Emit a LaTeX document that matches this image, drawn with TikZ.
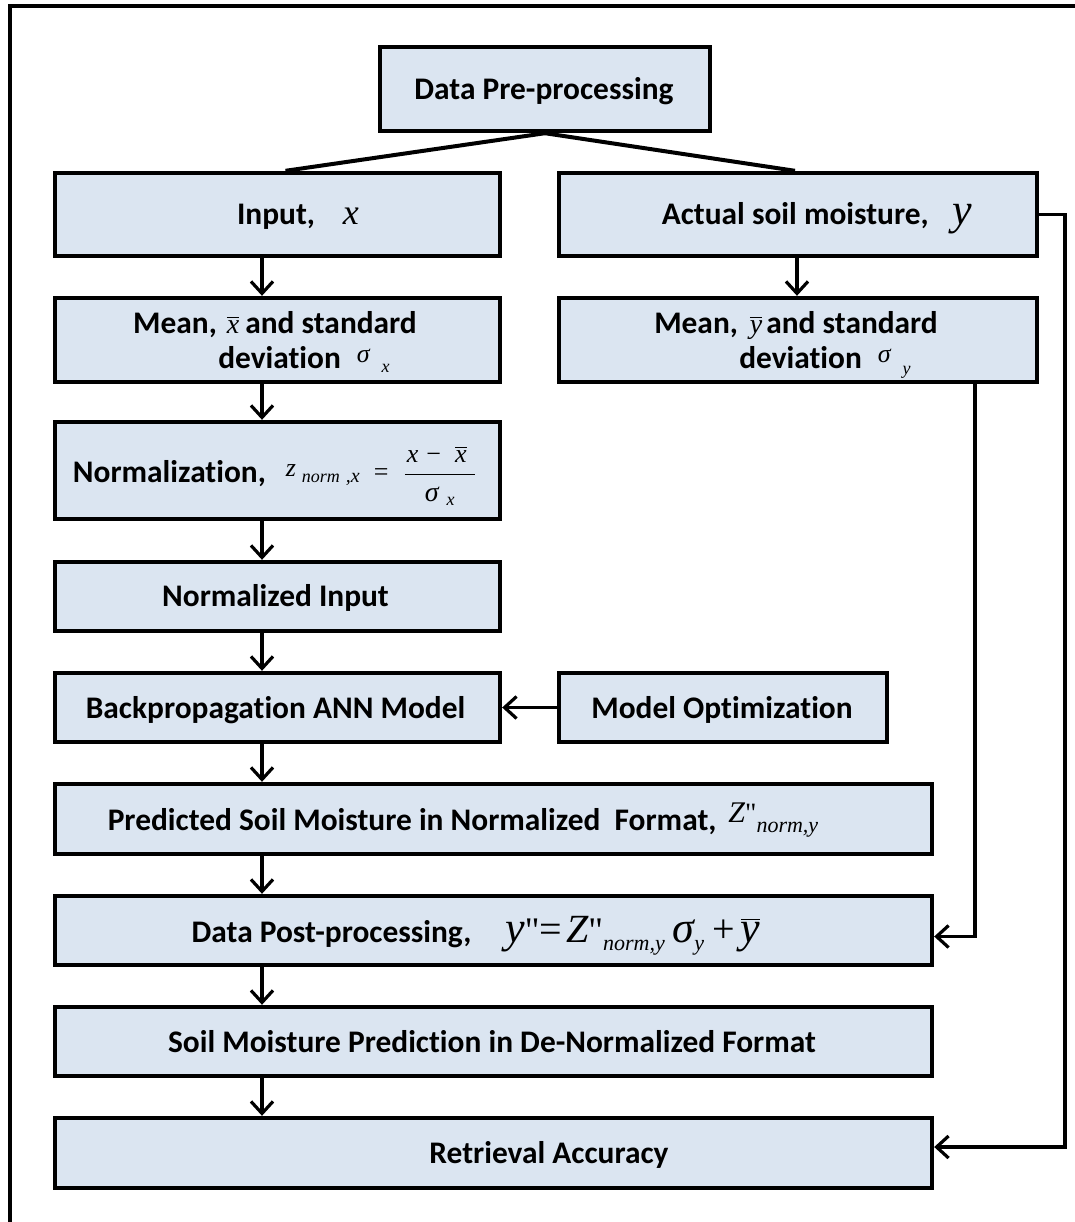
\documentclass[tikz,border=0pt]{standalone}
\usepackage{fontspec}
\setmainfont{Carlito}[Ligatures=NoCommon]
\newfontfamily\tms{Liberation Serif}
\usetikzlibrary{arrows.meta,fit,calc}
\definecolor{boxfill}{RGB}{219,229,241}

% italic / upright serif symbols at a given size (pt)
\newcommand\mi[2]{{\tms\mdseries\itshape\fontsize{#1}{#1}\selectfont #2}}
\newcommand\mr[2]{{\tms\mdseries\upshape\fontsize{#1}{#1}\selectfont #2}}
\newcommand\barred[1]{$\overline{\hbox{#1}}$}

\begin{document}
\begin{tikzpicture}[x=0.5pt,y=-0.5pt,
  box/.style={draw=black, line width=2.2pt, fill=boxfill, inner sep=0pt},
  lbl/.style={inner sep=0pt, anchor=base, font=\fontsize{15.7}{17.5}\selectfont\bfseries},
  link/.style={line width=2pt},
  arr/.style={line width=1.6pt, -{Straight Barb[length=6pt,width=11pt]}},
  outerframe/.style={line width=2pt}]

\useasboundingbox (0,0) rectangle (1075,1222);

% outer frame
\draw[outerframe] (9.5,1230) -- (9.5,6) -- (1080,6);

% boxes
\node[box, fit={(380,47) (710,131)}] (dp) {};
\node[box, fit={(55,173) (500,256)}] (in) {};
\node[box, fit={(559,173) (1037,256)}] (ac) {};
\node[box, fit={(55,298) (500,382)}] (mx) {};
\node[box, fit={(559,298) (1037,382)}] (my) {};
\node[box, fit={(55,422) (500,519)}] (nrm) {};
\node[box, fit={(55,562) (500,631)}] (ni) {};
\node[box, fit={(55,673) (500,742)}] (bp) {};
\node[box, fit={(559,673) (887,742)}] (mo) {};
\node[box, fit={(55,784) (932,854)}] (pred) {};
\node[box, fit={(55,896) (932,965)}] (post) {};
\node[box, fit={(55,1007) (932,1076)}] (smp) {};
\node[box, fit={(55,1118) (932,1188)}] (ret) {};

% texts
\node[lbl] (dp-t) at (544,99) {Data Pre-processing};
\node[lbl] (in-t) at (298,224) {Input,\hspace{14pt}\mi{18}{x}};
\node[lbl] (ac-t) at (817,224) {Actual soil moisture,\hspace{12pt}\mi{22}{y}};

\node[lbl] (mx-t1) at (275,333) {Mean,\hspace{5pt}\barred{\mi{14}{x}}\hspace{3pt}and standard};
\node[lbl] (mx-t2) at (304,368) {deviation\hspace{8pt}\raisebox{3pt}{\mi{13}{σ}}\hspace{6pt}\raisebox{-2pt}{\mi{9}{x}}};
\node[lbl] (my-t1) at (796,333) {Mean,\hspace{6pt}\barred{\mi{14}{y}}\hspace{2pt}and standard};
\node[lbl] (my-t2) at (825,368) {deviation\hspace{8pt}\raisebox{3pt}{\mi{13}{σ}}\hspace{6pt}\raisebox{-3pt}{\mi{9}{y}}};

\node[lbl] (nrm-t) at (275,482) {Normalization,\hspace{10pt}\raisebox{3pt}{\mi{13}{z}}\hspace{3pt}\mi{9}{norm}\hspace{3pt}\mi{10}{,x}\hspace{7pt}\raisebox{1pt}{\mr{13}{=}}\hspace{7pt}$\displaystyle\frac{\hbox{\hspace{1pt}\mi{13}{x}\hspace{4pt}\mr{13}{−}\hspace{7pt}\barred{\mi{13}{x}}\hspace{4pt}}}{\hbox{\mi{14}{σ}\hspace{4pt}\raisebox{-2pt}{\mi{9}{x}}}}$};

\node[lbl] (ni-t) at (275.5,606) {Normalized Input};
\node[lbl] (bp-t) at (275.5,718) {Backpropagation ANN Model};
\node[lbl] (mo-t) at (722,718) {Model Optimization};

\node[lbl] (pred-t) at (463,830) {Predicted Soil Moisture in Normalized\ \ Format,\hspace{6pt}\raisebox{4pt}{\mi{15}{Z}\mr{14}{"}}\raisebox{-1pt}{\mi{11}{norm,y}}};

\node[lbl] (post-t) at (476,942) {Data Post-processing,\hspace{17pt}\mi{22}{y}\mr{18}{"}\mr{20}{=}\hspace{2pt}\mi{20}{Z}\mr{18}{"}\raisebox{-4pt}{\mi{11}{norm,y}}\hspace{4pt}\mi{22}{σ}\raisebox{-4pt}{\mi{11}{y}}\hspace{4pt}\mr{20}{+}\hspace{3pt}\barred{\mi{22}{y}}};

\node[lbl] (smp-t) at (492,1052) {Soil Moisture Prediction in De-Normalized Format};
\node[lbl] (ret-t) at (549,1163) {Retrieval Accuracy};

% connector columns
\coordinate (colL) at (262,0);
\coordinate (colR) at (797,0);
\coordinate (colY) at (975,0);
\coordinate (colF) at (1065,0);

% split from pre-processing
\draw[link] (dp.south) -- ([xshift=4pt]in.north);
\draw[link] (dp.south) -- ([xshift=-1.5pt]ac.north);

% main chain
\draw[arr] (in.south -| colL) -- (mx.north -| colL);
\draw[arr] (mx.south -| colL) -- (nrm.north -| colL);
\draw[arr] (nrm.south -| colL) -- (ni.north -| colL);
\draw[arr] (ni.south -| colL) -- (bp.north -| colL);
\draw[arr] (bp.south -| colL) -- (pred.north -| colL);
\draw[arr] (pred.south -| colL) -- (post.north -| colL);
\draw[arr] (post.south -| colL) -- (smp.north -| colL);
\draw[arr] (smp.south -| colL) -- (ret.north -| colL);

\draw[arr] (ac.south -| colR) -- (my.north -| colR);
\draw[arr] (mo.west) -- (bp.east);

% feedback lines on the right
\draw[arr] (my.south -| colY) |- ([yshift=-3pt]post.east);
\draw[arr] (ac.east) -- (ac.east -| colF) -- ([yshift=3pt]ret.east -| colF) -- ([yshift=3pt]ret.east);
\end{tikzpicture}
\end{document}
